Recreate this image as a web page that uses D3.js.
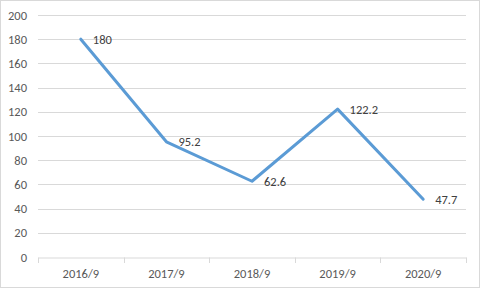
<!DOCTYPE html>
<html><head><meta charset="utf-8">
<script src="https://cdn.jsdelivr.net/npm/d3@7"></script>
<style>html,body{margin:0;padding:0;background:#fff;}svg{display:block;}</style>
</head><body>
<script>
const categories = ["2016/9","2017/9","2018/9","2019/9","2020/9"];
const values = [180, 95.2, 62.6, 122.2, 47.7];
const yTicks = [0,20,40,60,80,100,120,140,160,180,200];

const W = 481, H = 289;
const svg = d3.select("body").append("svg").attr("width", W).attr("height", H);
const font = "Calibri, Carlito, Lato, 'Liberation Sans', Arial, sans-serif";

svg.append("rect").attr("x",0.5).attr("y",0.5).attr("width",W-2).attr("height",H-2)
  .attr("fill","#fff").attr("stroke","#d9d9d9");

const x = d3.scaleBand().domain(categories).range([38, 466]);
const y = d3.scaleLinear().domain([0,200]).range([257, 15]);

// gridlines
svg.append("g").selectAll("line").data(yTicks.filter(t=>t>0)).join("line")
  .attr("x1",38).attr("x2",466)
  .attr("y1",d=>Math.round(y(d))+0.5).attr("y2",d=>Math.round(y(d))+0.5)
  .attr("stroke","#d9d9d9").attr("stroke-width",1);

// y axis labels
const yAxis = d3.axisLeft(y).tickValues(yTicks).tickSize(0).tickPadding(11);
const gy = svg.append("g").attr("transform","translate(38,0)").call(yAxis);
gy.select(".domain").remove();
gy.selectAll("text").attr("fill","#595959").style("font-family",font).style("font-size","12.5px");

// x axis
const xAxis = d3.axisBottom(x).tickSize(0).tickPadding(12);
const gx = svg.append("g").attr("transform","translate(0,257.5)").call(xAxis);
gx.select(".domain").attr("stroke","#d9d9d9");
gx.selectAll("text").attr("fill","#595959").style("font-family",font).style("font-size","12.5px");
// category boundary ticks
const bounds = categories.map(c=>x(c)).concat([x.range()[1]]);
svg.append("g").selectAll("line").data(bounds).join("line")
  .attr("x1",d=>Math.round(d)+0.5).attr("x2",d=>Math.round(d)+0.5)
  .attr("y1",257.5).attr("y2",263).attr("stroke","#d9d9d9");

const cx = c => x(c) + x.bandwidth()/2;
const line = d3.line().x((d,i)=>cx(categories[i])).y(d=>y(d));
svg.append("path").datum(values).attr("d",line).attr("fill","none")
  .attr("stroke","#5B9BD5").attr("stroke-width",3).attr("stroke-linejoin","round").attr("stroke-linecap","round");

svg.append("g").selectAll("text").data(values).join("text")
  .attr("x",(d,i)=>cx(categories[i])+12).attr("y",d=>y(d))
  .attr("dy","0.35em")
  .attr("fill","#404040").style("font-family",font).style("font-size","12.5px")
  .text(d=>d);
</script>
</body></html>
